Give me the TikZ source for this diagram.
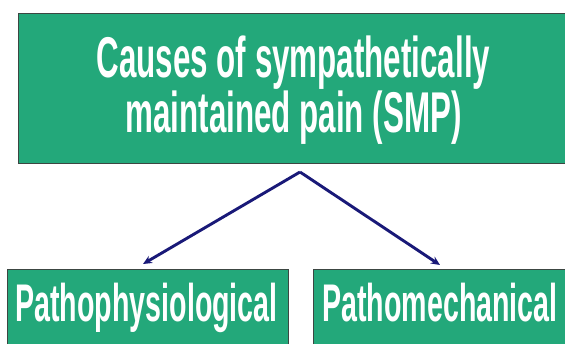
\documentclass[tikz,border=0pt]{standalone}
\usepackage{fontspec}
\setmainfont{Liberation Sans}
\newfontfamily\condtop[FakeStretch=0.545]{Liberation Sans Bold}
\newfontfamily\condbot[FakeStretch=0.54]{Liberation Sans Bold}
\usetikzlibrary{arrows.meta}
\definecolor{boxgreen}{RGB}{35,168,122}
\definecolor{boxedge}{RGB}{60,70,66}
\definecolor{arrowblue}{RGB}{25,25,120}
\tikzset{
  greenbox/.style={fill=boxgreen, draw=boxedge, line width=1.2pt, anchor=north west, inner sep=0pt},
  toptext/.style={text=white, font=\condtop\fontsize{57.5}{60}\selectfont, anchor=base, inner sep=0pt},
  bottext/.style={text=white, font=\condbot\fontsize{53}{56}\selectfont, anchor=base, inner sep=0pt},
  arr/.style={draw=arrowblue, line width=2.9pt, -{Stealth[length=9pt,width=8pt]}}
}
\begin{document}
\begin{tikzpicture}[x=1pt,y=-1pt]
\useasboundingbox (0,0) rectangle (565,343);
\clip (0,0) rectangle (565,343);
\fill[white] (0,0) rectangle (565,343);
\node[greenbox, minimum width=560pt, minimum height=150pt] (top) at (18,13) {};
\node[greenbox, minimum width=281pt, minimum height=100pt] (left) at (7,269) {};
\node[greenbox, minimum width=260pt, minimum height=100pt] (right) at (313,269) {};
\node[toptext] (t1) at (293.5,77) {Causes of sympathetically};
\node[toptext] (t2) at (293.5,132) {maintained pain (SMP)};
\node[bottext] (b1) at (146.5,321) {Pathophysiological};
\node[bottext] (b2) at (440,321) {Pathomechanical};
\coordinate (apex) at (300,172);
\coordinate (tipL) at (143,264);
\coordinate (tipR) at (440,265);
\draw[arr] (apex) -- (tipL);
\draw[arr] (apex) -- (tipR);
\end{tikzpicture}
\end{document}
